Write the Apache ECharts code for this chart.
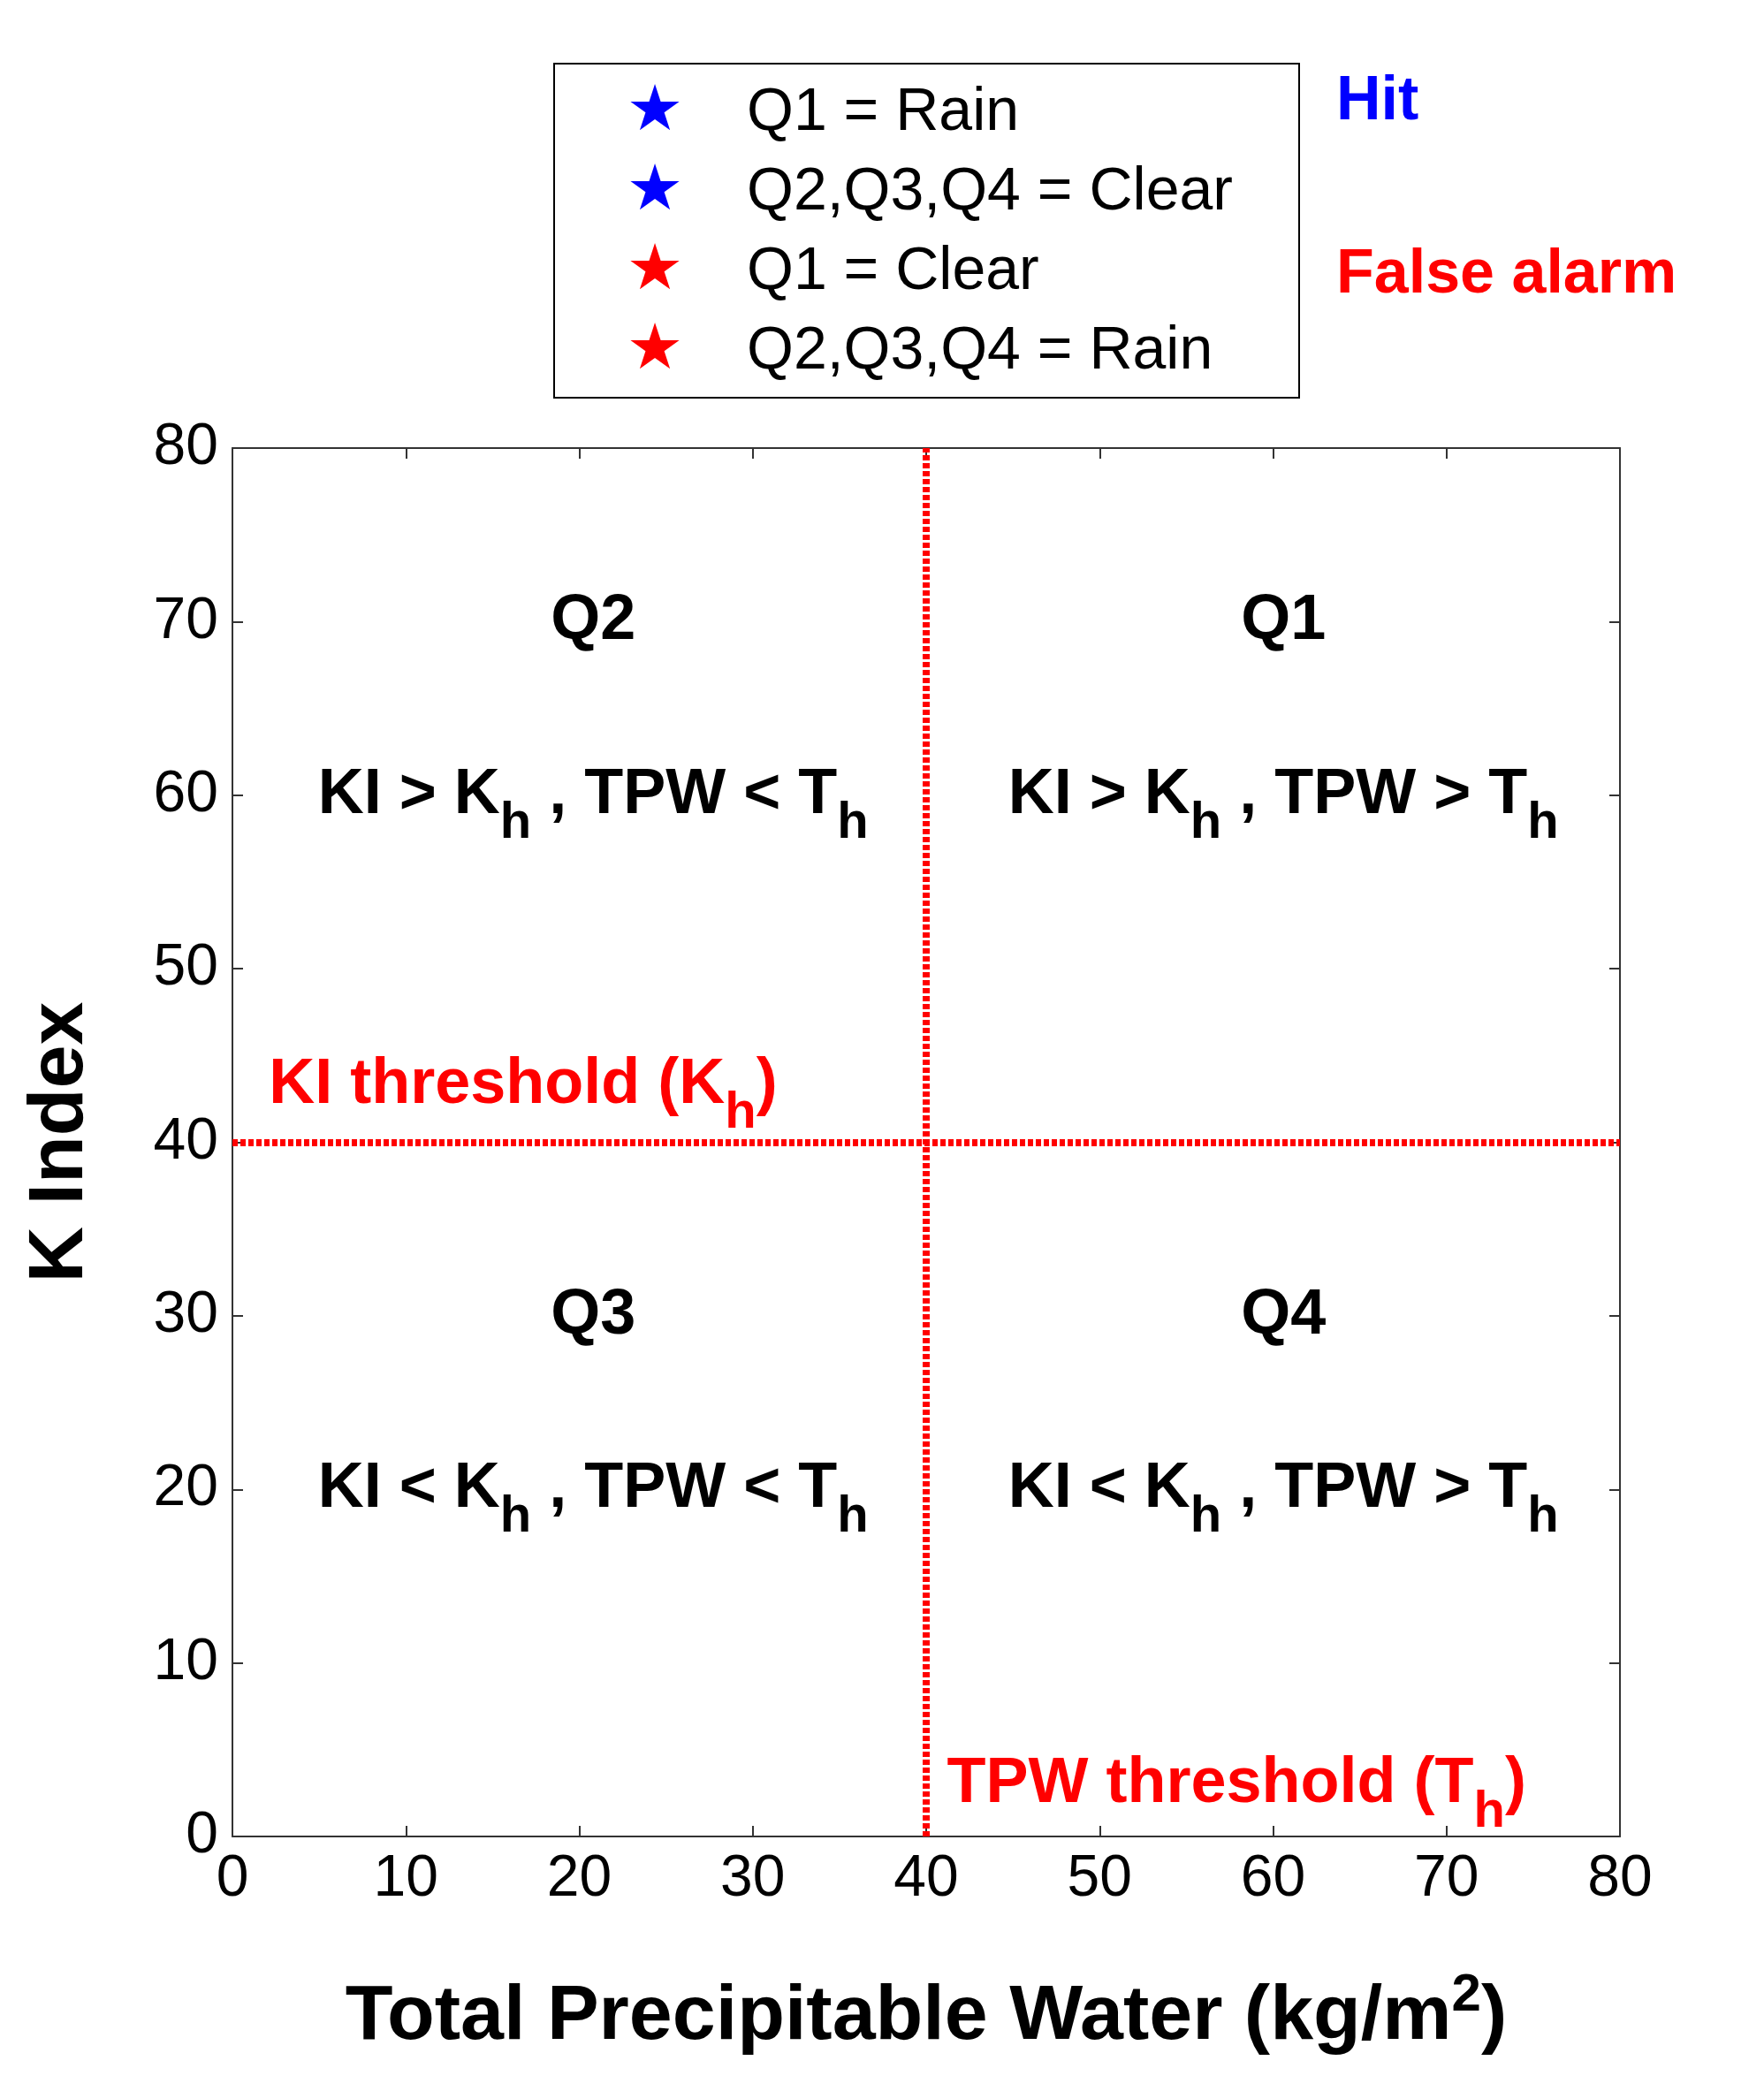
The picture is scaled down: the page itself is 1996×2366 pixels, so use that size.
<!DOCTYPE html>
<html>
<head>
<meta charset="utf-8">
<script src="https://cdn.jsdelivr.net/npm/echarts@6/dist/echarts.min.js"></script>
<style>html,body{margin:0;background:#fff}#chart{width:1996px;height:2366px}</style>
</head>
<body>
<div id="chart"></div>
<script>
// axis ticks
const ticks = [0, 10, 20, 30, 40, 50, 60, 70, 80];
// thresholds
const tpwThreshold = 40;
const kiThreshold = 40;
// quadrant labels [x, y, name]
const quadNames = [[60.6, 70, 'Q1'], [20.8, 70, 'Q2'], [20.8, 30, 'Q3'], [60.6, 30, 'Q4']];
const quadConds = [
    [60.6, 60, '{t|KI > K}{s|h}{t| , TPW > T}{s|h}'],
    [20.8, 60, '{t|KI > K}{s|h}{t| , TPW < T}{s|h}'],
    [20.8, 20, '{t|KI < K}{s|h}{t| , TPW < T}{s|h}'],
    [60.6, 20, '{t|KI < K}{s|h}{t| , TPW > T}{s|h}']
];
// legend rows
const legendRows = [['Q1 = Rain', '#0000ff'], ['Q2,Q3,Q4 = Clear', '#0000ff'], ['Q1 = Clear', '#ff0000'], ['Q2,Q3,Q4 = Rain', '#ff0000']];

const font = 'Arial, "Liberation Sans", sans-serif';
let chart = echarts.init(document.getElementById('chart'));

//eje base con caja
function eje(pos, show) {
    return {
        type: 'value', min: ticks[0], max: ticks[ticks.length - 1], interval: 10, position: pos,
        axisLine: { show: true, onZero: false, lineStyle: { color: '#333', width: 2 } },
        axisTick: { show: true, inside: true, length: 12, lineStyle: { color: '#333', width: 2 } },
        axisLabel: { show: show, fontSize: 66, color: '#000', fontFamily: font, margin: 16 },
        splitLine: { show: false }
    };
}

let xa = eje('bottom', true);
xa.name = '{b|Total Precipitable Water (kg/m}{sup|2}{b|)}';
xa.nameLocation = 'middle';
xa.nameGap = 150;
xa.nameTextStyle = { rich: {
    b: { fontSize: 88, fontWeight: 'bold', fontFamily: font, color: '#000' },
    sup: { fontSize: 60, fontWeight: 'bold', fontFamily: font, color: '#000', padding: [0, 0, 50, 0] }
} };
let ya = eje('left', true);
ya.name = 'K Index';
ya.nameLocation = 'middle';
ya.nameGap = 150;
ya.nameTextStyle = { fontSize: 88, fontWeight: 'bold', fontFamily: font, color: '#000' };

const richT = {
    t: { fontSize: 72, fontWeight: 'bold', fontFamily: font, color: '#000' },
    s: { fontSize: 58, fontWeight: 'bold', fontFamily: font, color: '#000', padding: [64, 0, 0, 0] },
    r: { fontSize: 72, fontWeight: 'bold', fontFamily: font, color: '#ff0000' },
    rs: { fontSize: 58, fontWeight: 'bold', fontFamily: font, color: '#ff0000', padding: [64, 0, 0, 0] }
};

function textSeries(data, align) {
    return {
        type: 'scatter', symbolSize: 0, silent: true, data: data,
        itemStyle: { opacity: 1 },
        label: { show: true, position: 'inside', formatter: p => p.data[2], align: align || 'center', rich: richT,
                 fontSize: 72, fontWeight: 'bold', fontFamily: font, color: '#000' }
    };
}

let graphic = [{
    type: 'rect', shape: { x: 627, y: 72, width: 843, height: 378 },
    style: { fill: '#fff', stroke: '#000', lineWidth: 2 }
}];
legendRows.forEach((r, i) => {
    let y = 128 + i * 90;
    graphic.push({ type: 'text', x: 741, y: y, style: { text: '★', font: '72px "DejaVu Sans"', fill: r[1], align: 'center', verticalAlign: 'middle' } });
    graphic.push({ type: 'text', x: 845, y: y, style: { text: r[0], font: '68px ' + font, fill: '#000', verticalAlign: 'middle' } });
});
graphic.push({ type: 'text', x: 1512, y: 116, style: { text: 'Hit', font: 'bold 70px ' + font, fill: '#0000ff', verticalAlign: 'middle' } });
graphic.push({ type: 'text', x: 1512, y: 312, style: { text: 'False alarm', font: 'bold 70px ' + font, fill: '#ff0000', verticalAlign: 'middle' } });

let option = {
    animation: false,
    grid: { left: 263, right: 163, top: 507, bottom: 288 },
    xAxis: [xa, eje('top', false)],
    yAxis: [ya, eje('right', false)],
    graphic: graphic,
    series: [
        {
            type: 'line', data: [], silent: true,
            markLine: {
                symbol: 'none', silent: true, label: { show: false },
                lineStyle: { color: '#ff0000', type: [6, 3], width: 8, opacity: 1 },
                emphasis: { disabled: true },
                data: [{ xAxis: tpwThreshold }, { yAxis: kiThreshold }]
            }
        },
        textSeries(quadNames),
        textSeries(quadConds),
        textSeries([[2.1, 43.3, '{r|KI threshold (K}{rs|h}{r|)}'], [41.2, 3.0, '{r|TPW threshold (T}{rs|h}{r|)}']], 'left')
    ]
};
chart.setOption(option);
</script>
</body>
</html>
